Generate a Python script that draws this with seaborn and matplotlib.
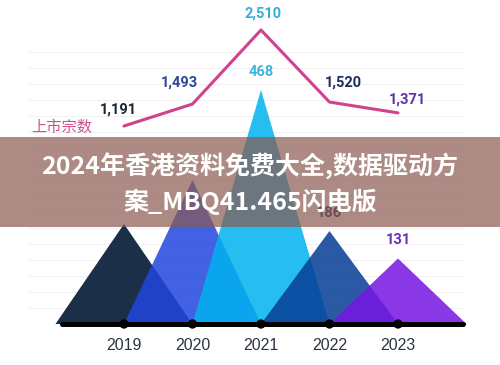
import numpy as np
import pandas as pd
import seaborn as sns
import matplotlib.pyplot as plt
from matplotlib.patches import Rectangle

# données
years = [2019, 2020, 2021, 2022, 2023]
listings = [1191, 1493, 2510, 1520, 1371]          # 上市宗数 (ligne)
peaks = [200, 288, 468, 186, 131]                  # triangles (2019/2020/2022 masqués par le bandeau, estimés)
listing_labels = ["1,191", "1,493", "2,510", "1,520", "1,371"]
peak_labels = ["", "", "468", "186", "131"]        # 2019/2020 invisibles sous le bandeau
year_labels = ["2019", "2020", "2021", "2022", "2023"]
title_lines = ["2024年香港资料免费大全,数据驱动方", "案_MBQ41.465闪电版"]
series_name = "上市宗数"

# styles
tri_colors = ["#1b2f48", "#2146de", "#00b2ee", "#063d96", "#7615e2"]
tri_alpha = [1.0, 0.85, 0.85, 0.85, 0.85]
tri_label_colors = ["#1b2f48", "#2c4a9a", "#3ab5e0", "#1c2f5a", "#6a30b8"]
listing_colors = ["#1a2535", "#2c4a9a", "#35aede", "#1c2f5a", "#6232a8"]
listing_offsets = [(-4.3, 11.5), (-9.4, 15.8), (1.4, 11.5), (10, 13.7), (6.5, 9.4)]
line_color = "#d0438b"
num_font = ["Roboto", "DejaVu Sans"]
cjk_font = ["Noto Sans CJK SC", "DejaVu Sans"]

sns.set_theme(style="white")
plt.rcParams["font.family"] = ["Liberation Sans", "DejaVu Sans"]

fig = plt.figure(figsize=(5, 3.65), dpi=100)
ax = fig.add_axes([0, 0, 1, 1])
ax2 = ax.twinx()
ax2.set_position([0, 0, 1, 1])

# grille très claire
for yv in np.arange(32, 560, 32):
    ax.hlines(yv, 2017.6, 2023.95, color="#f2f2f2", lw=0.8, zorder=0)

# triangles
for yr, pk, c, a in zip(years, peaks, tri_colors, tri_alpha):
    ax.fill([yr - 1, yr, yr + 1], [0, pk, 0], color=c, alpha=a, lw=0, zorder=2)
for yr, pk, lab, lab_c in zip(years, peaks, peak_labels, tri_label_colors):
    if lab:
        ax.annotate(lab, (yr, pk), xytext=(0, 13), textcoords="offset points",
                    ha="center", va="center", fontsize=10.5, fontweight="bold",
                    color=lab_c, family=num_font, zorder=3)

# axe de base
ax.plot([years[0] - 0.9, years[-1] + 0.95], [0, 0], color="black", lw=3.6,
        solid_capstyle="round", zorder=4)
sns.scatterplot(x=years, y=[0] * len(years), ax=ax, color="black", s=45,
                edgecolor="none", zorder=5)
for yr, lab in zip(years, year_labels):
    ax.text(yr, -44, lab, ha="center", va="center", fontsize=11.5, color="#2b3445")

# ligne 上市宗数
df = pd.DataFrame({"year": years, "listings": listings})
sns.lineplot(data=df, x="year", y="listings", ax=ax2, color=line_color, lw=2.2, zorder=6)
for yr, v, lab, c, off in zip(years, listings, listing_labels, listing_colors, listing_offsets):
    ax2.annotate(lab, (yr, v), xytext=off, textcoords="offset points",
                 ha="center", va="center", fontsize=10.5, fontweight="bold",
                 color=c, family=num_font)
fig.text(62 / 500, 1 - 127 / 365, series_name, ha="center", va="center",
         fontsize=11, color="#d0508f", family=cjk_font)

# échelles
ax.set_xlim(2017.19, 2024.489)
ax.set_ylim(-82, 648)
ax2.set_ylim(-2092, 2922)
for a in (ax, ax2):
    a.axis("off")

# bandeau
fig.add_artist(Rectangle((0, 1 - 227 / 365), 1, 90 / 365, transform=fig.transFigure,
                         facecolor="#8b5950", alpha=0.7, edgecolor="none", zorder=10))
fig.text(0.5, 1 - 166 / 365, title_lines[0], ha="center", va="center", fontsize=18,
         fontweight="bold", color="white", family=cjk_font, zorder=11)
fig.text(0.5, 1 - 202 / 365, title_lines[1], ha="center", va="center", fontsize=18,
         fontweight="bold", color="white", family=cjk_font, zorder=11)

fig.savefig("out.png", dpi=100)
